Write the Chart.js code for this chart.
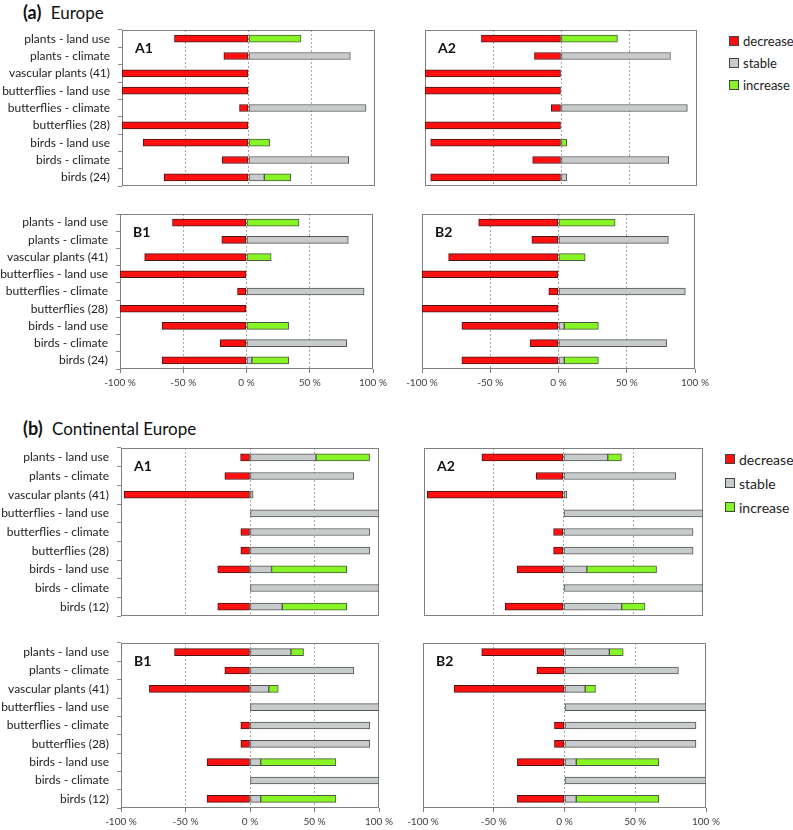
<!DOCTYPE html>
<html>
<head>
<meta charset="utf-8">
<script src="https://cdn.jsdelivr.net/npm/chart.js@4"></script>
<style>
  body { margin: 0; background: #fff; font-family: Lato, "Noto Sans", sans-serif; }
  #page { position: relative; width: 793px; height: 830px; }
  canvas { position: absolute; }
  .title { position: absolute; font-size: 17px; color: #111; white-space: nowrap; }
  .title b { margin-right: 5px; font-size: 18px; }
  .legend { position: absolute; color: #222; }
  .legend div { display: flex; align-items: center; }
  .legend .sw { display: inline-block; width: 8px; height: 8px; border: 1px solid #444; margin-right: 4px; }
</style>
</head>
<body>
<div id="page">
  <div class="title" style="left:23px;top:1px"><b>(a)</b> Europe</div>
  <div class="title" style="left:23px;top:417px"><b>(b)</b> Continental Europe</div>
  <div class="legend" id="legA" style="left:729px;top:30px;font-size:13px"></div>
  <div class="legend" id="legB" style="left:725px;top:447px;font-size:14px"></div>
</div>
<script>
// categories
const catsEU = ["plants - land use", "plants - climate", "vascular plants (41)", "butterflies - land use",
  "butterflies - climate", "butterflies (28)", "birds - land use", "birds - climate", "birds (24)"];
const catsCE = ["plants - land use", "plants - climate", "vascular plants (41)", "butterflies - land use",
  "butterflies - climate", "butterflies (28)", "birds - land use", "birds - climate", "birds (12)"];

const seriesNames = ["decrease", "stable", "increase"];
const xTicks = [-100, -50, 0, 50, 100];

// (a) Europe
const eA1Dec = [-58.5, -19.5, -100, -100, -7.1, -100, -83.3, -20.8, -66.7];
const eA1Sta = [0, 80.5, 0, 0, 92.9, 0, 0, 79.2, 12.5];
const eA1Inc = [41.5, 0, 0, 0, 0, 0, 16.7, 0, 20.8];

const eA2Dec = [-58.5, -19.5, -100, -100, -7.1, -100, -95.8, -20.8, -95.8];
const eA2Sta = [0, 80.5, 0, 0, 92.9, 0, 0, 79.2, 4.2];
const eA2Inc = [41.5, 0, 0, 0, 0, 0, 4.2, 0, 0];

const eB1Dec = [-58.5, -19.5, -80.5, -100, -7.1, -100, -66.7, -20.8, -66.7];
const eB1Sta = [0, 80.5, 0, 0, 92.9, 0, 0, 79.2, 4.2];
const eB1Inc = [41.5, 0, 19.5, 0, 0, 0, 33.3, 0, 29.2];

const eB2Dec = [-58.5, -19.5, -80.5, -100, -7.1, -100, -70.8, -20.8, -70.8];
const eB2Sta = [0, 80.5, 0, 0, 92.9, 0, 4.2, 79.2, 4.2];
const eB2Inc = [41.5, 0, 19.5, 0, 0, 0, 25, 0, 25];

// (b) Continental Europe
const cA1Dec = [-7.3, -19.5, -97.6, 0, -7.1, -7.1, -25, 0, -25];
const cA1Sta = [51.2, 80.5, 2.4, 100, 92.9, 92.9, 16.7, 100, 25];
const cA1Inc = [41.5, 0, 0, 0, 0, 0, 58.3, 0, 50];

const cA2Dec = [-58.5, -19.5, -97.6, 0, -7.1, -7.1, -33.3, 0, -41.7];
const cA2Sta = [31.7, 80.5, 2.4, 100, 92.9, 92.9, 16.7, 100, 41.7];
const cA2Inc = [9.8, 0, 0, 0, 0, 0, 50, 0, 16.7];

const cB1Dec = [-58.5, -19.5, -78.0, 0, -7.1, -7.1, -33.3, 0, -33.3];
const cB1Sta = [31.7, 80.5, 14.6, 100, 92.9, 92.9, 8.3, 100, 8.3];
const cB1Inc = [9.8, 0, 7.3, 0, 0, 0, 58.3, 0, 58.3];

const cB2Dec = [-58.5, -19.5, -78.0, 0, -7.1, -7.1, -33.3, 0, -33.3];
const cB2Sta = [31.7, 80.5, 14.6, 100, 92.9, 92.9, 8.3, 100, 8.3];
const cB2Inc = [9.8, 0, 7.3, 0, 0, 0, 58.3, 0, 58.3];

const fills = ["#ff1010", "#c8cbcb", "#86f425"];
const edges = ["#4a1414", "#555555", "#4b5a3c"];

Chart.defaults.font.family = "Lato, 'Noto Sans', sans-serif";
Chart.defaults.color = "#222";

// legends
[["legA", 22], ["legB", 24]].forEach(([id, h]) => {
  const el = document.getElementById(id);
  seriesNames.forEach((n, i) => {
    const d = document.createElement("div");
    d.style.height = h + "px";
    d.innerHTML = `<span class="sw" style="background:${fills[i]}"></span>${n}`;
    el.appendChild(d);
  });
});

// frame + panel tag
const framePlugin = {
  id: "frame",
  beforeDatasetsDraw(chart) {
    const { ctx, chartArea: a } = chart;
    ctx.save();
    ctx.strokeStyle = "#7f7f7f";
    ctx.lineWidth = 1;
    ctx.strokeRect(Math.round(a.left) + 0.5, Math.round(a.top) + 0.5,
      Math.round(a.right - a.left) - 1, Math.round(a.bottom - a.top) - 1);
    ctx.restore();
  },
  afterDatasetsDraw(chart, args, opts) {
    const { ctx, chartArea: a } = chart;
    ctx.save();
    ctx.font = "bold 14px Lato, 'Noto Sans', sans-serif";
    ctx.fillStyle = "#111";
    ctx.textBaseline = "middle";
    ctx.fillText(opts.tag, a.left + 13, a.top + 18);
    ctx.restore();
  }
};

const nz = (arr) => arr.map(v => (v === 0 ? null : v));

function panel(tag, box, cats, dec, sta, inc, showY, showX) {
  const xH = showX ? 30 : 2;
  const left = showY ? 0 : box.l - 20;
  const width = box.r - left + 20;
  const top = box.t - 4;
  const height = 4 + (box.b - box.t) + xH;

  const cv = document.createElement("canvas");
  cv.width = width; cv.height = height;
  cv.style.left = left + "px"; cv.style.top = top + "px";
  document.getElementById("page").appendChild(cv);

  new Chart(cv, {
    type: "bar",
    data: {
      labels: cats,
      datasets: [dec, sta, inc].map((d, i) => ({
        label: seriesNames[i],
        data: nz(d),
        backgroundColor: fills[i],
        borderColor: edges[i],
        borderWidth: 1,
        borderSkipped: false,
        barThickness: 7,
        stack: "s"
      }))
    },
    options: {
      indexAxis: "y",
      responsive: false,
      animation: false,
      layout: { padding: { top: 4, right: 20, bottom: 0, left: showY ? 0 : 20 } },
      plugins: { legend: { display: false }, tooltip: { enabled: false }, frame: { tag } },
      scales: {
        x: {
          stacked: true,
          min: -100, max: 100,
          afterBuildTicks: (s) => { s.ticks = xTicks.map(v => ({ value: v })); },
          afterFit: (s) => { s.height = xH; s.paddingLeft = 0; s.paddingRight = 0; },
          grid: {
            color: (c) => (c.tick && Math.abs(c.tick.value) === 100 ? "rgba(0,0,0,0)" : "#a6a6a6"),
            tickColor: "#808080",
            drawTicks: showX,
            tickLength: 4
          },
          border: { display: false, dash: [2, 2] },
          ticks: {
            display: showX,
            autoSkip: false,
            maxRotation: 0,
            padding: 4,
            color: "#404040",
            font: { size: 10 },
            callback: (v) => v + " %"
          }
        },
        y: {
          stacked: true,
          display: showY,
          afterFit: (s) => { s.width = showY ? box.l : 0; s.paddingTop = 0; s.paddingBottom = 0; },
          grid: { offset: true, drawOnChartArea: false, tickLength: 4, color: "#8c8c8c" },
          border: { display: false },
          ticks: { padding: 8, color: "#222", font: { size: 12 }, autoSkip: false }
        }
      }
    },
    plugins: [framePlugin]
  });
}

panel("A1", { l: 122, r: 375, t: 30, b: 186 }, catsEU, eA1Dec, eA1Sta, eA1Inc, true, false);
panel("A2", { l: 425, r: 697, t: 30, b: 186 }, catsEU, eA2Dec, eA2Sta, eA2Inc, false, false);
panel("B1", { l: 120, r: 373, t: 214, b: 369 }, catsEU, eB1Dec, eB1Sta, eB1Inc, true, true);
panel("B2", { l: 422, r: 695, t: 214, b: 369 }, catsEU, eB2Dec, eB2Sta, eB2Inc, false, true);

panel("A1", { l: 121, r: 379, t: 448, b: 616 }, catsCE, cA1Dec, cA1Sta, cA1Inc, true, false);
panel("A2", { l: 424, r: 703, t: 448, b: 616 }, catsCE, cA2Dec, cA2Sta, cA2Inc, false, false);
panel("B1", { l: 121, r: 379, t: 643, b: 808 }, catsCE, cB1Dec, cB1Sta, cB1Inc, true, true);
panel("B2", { l: 423, r: 706, t: 643, b: 808 }, catsCE, cB2Dec, cB2Sta, cB2Inc, false, true);
</script>
</body>
</html>
